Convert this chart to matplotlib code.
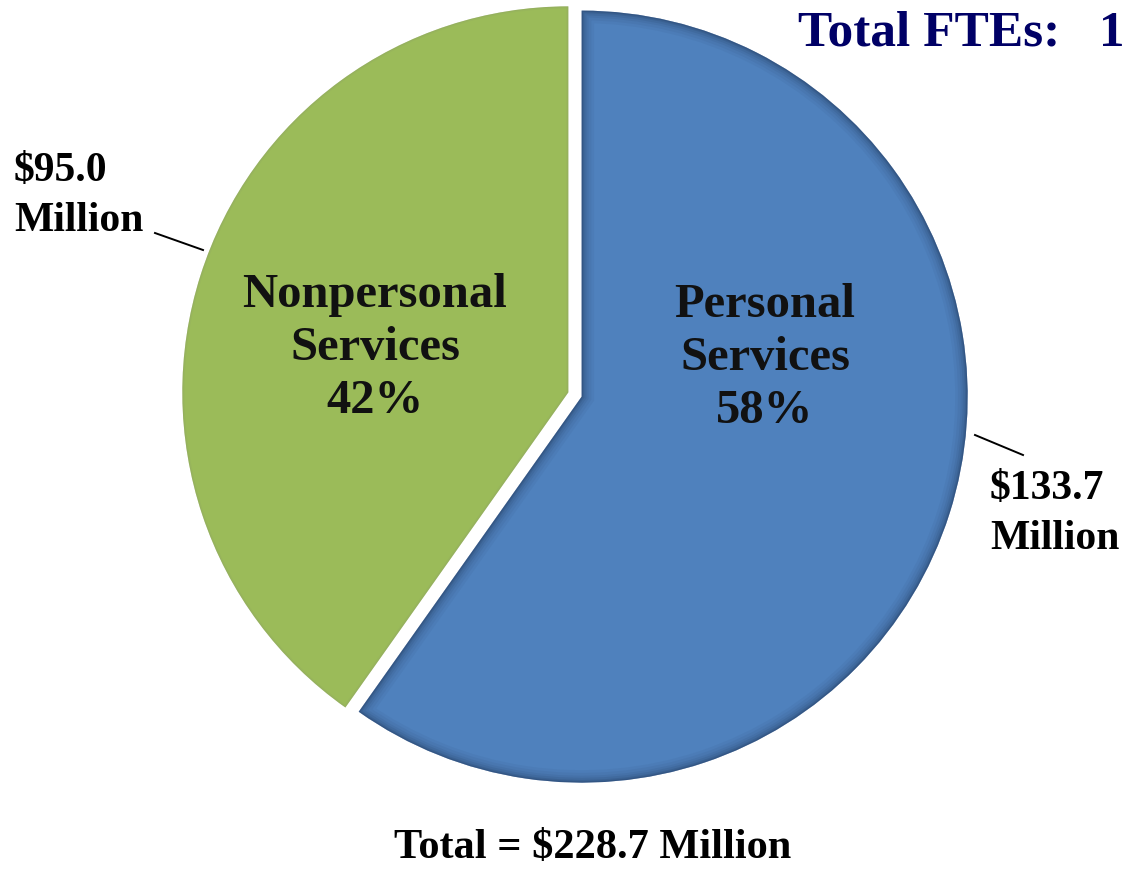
import matplotlib
matplotlib.use('Agg')
import matplotlib.pyplot as plt
from matplotlib.patches import Wedge

W, H = 1124, 872

categories = ['Personal\nServices', 'Nonpersonal\nServices']
amounts = [133.7, 95.0]          # $ million
pct_labels = [58, 42]
slice_shares = [59.8, 40.2]      # slice sizes as drawn in the picture
amount_labels = ['$133.7\nMillion', '$95.0\nMillion']
fte_total = 1
colors = ['#4F81BD', '#9BBB59']

plt.rcParams['font.family'] = ['Liberation Serif', 'DejaVu Serif']
plt.rcParams['font.weight'] = 'bold'

fig = plt.figure(figsize=(W / 100, H / 100), dpi=100)
ax = fig.add_axes([0, 0, 1, 1])

def py(y):
    # pixel row (from top) -> data y
    return H - y

CX, CY, R = 575, py(394.5), 386
total = sum(amounts)

# explode is in data units here (pixels)
wedges, _ = ax.pie(slice_shares, colors=colors, startangle=90, counterclock=False,
                   explode=[7, 7], radius=R, center=(CX, CY),
                   wedgeprops=dict(linewidth=0))

# inner shadow on the blue slice, faint rim on the green one
shade_cfg = [('#1a2d4f', [(18, 0.05), (14, 0.06), (10, 0.08), (7, 0.10), (4, 0.14), (2, 0.2)]),
             ('#8a9a6a', [(3, 0.15), (1.2, 0.25)])]
for w, (sc, layers) in zip(wedges, shade_cfg):
    for lw, a in layers:
        s = Wedge(w.center, w.r, w.theta1, w.theta2, fill=False,
                  edgecolor=sc, linewidth=lw, alpha=a)
        s.set_clip_path(w)
        ax.add_patch(s)

ax.set_xlim(0, W)
ax.set_ylim(0, H)
ax.set_aspect('equal')
ax.axis('off')

# slice labels
ax.text(765, py(358), '%s\n%d%%' % (categories[0], pct_labels[0]), ha='center', va='center',
        fontsize=35, fontweight='bold', color='#111111', linespacing=1.27)
ax.text(375, py(348), '%s\n%d%%' % (categories[1], pct_labels[1]), ha='center', va='center',
        fontsize=35, fontweight='bold', color='#111111', linespacing=1.27)

# outside amount labels with leader lines
ax.text(990, py(514), amount_labels[0], ha='left', va='center',
        fontsize=30, fontweight='bold', color='black', linespacing=1.38)
ax.plot([975, 1023], [py(435), py(455)], color='black', lw=1.4)
ax.text(14, py(196), amount_labels[1], ha='left', va='center',
        fontsize=30, fontweight='bold', color='black', linespacing=1.38)
ax.plot([155, 203], [py(233), py(250)], color='black', lw=1.4)

ax.text(1124, py(34), 'Total FTEs:   %d' % fte_total, ha='right', va='center',
        fontsize=37, fontweight='bold', color='#000066')
ax.text(593, py(848), 'Total = $%.1f Million' % total, ha='center', va='center',
        fontsize=30.5, fontweight='bold', color='black')

fig.savefig('out.png', dpi=100)
